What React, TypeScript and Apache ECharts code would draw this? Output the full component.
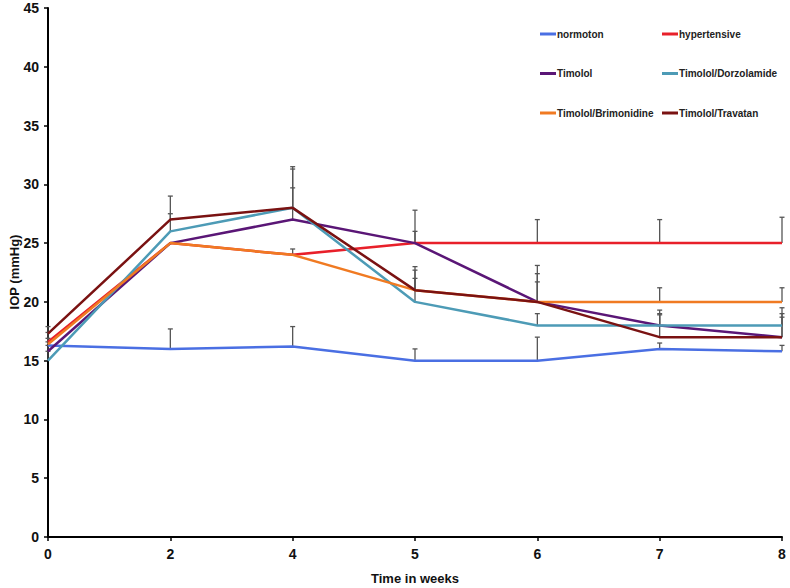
import React, { useEffect, useRef } from "react";
import * as echarts from "echarts";

const weeks = ["0", "2", "4", "5", "6", "7", "8"];

const seriesNames = [
  "normoton",
  "hypertensive",
  "Timolol",
  "Timolol/Dorzolamide",
  "Timolol/Brimonidine",
  "Timolol/Travatan",
];

const normoton = [16.3, 16.0, 16.2, 15.0, 15.0, 16.0, 15.8];
const hypertensive = [16.6, 25.0, 24.0, 25.0, 25.0, 25.0, 25.0];
const timolol = [15.8, 25.0, 27.0, 25.0, 20.0, 18.0, 17.0];
const dorzolamide = [15.0, 26.0, 28.0, 20.0, 18.0, 18.0, 18.0];
const brimonidine = [16.4, 25.0, 24.0, 21.0, 20.0, 20.0, 20.0];
const travatan = [17.3, 27.0, 28.0, 21.0, 20.0, 17.0, 17.0];

// upper error amounts (SD), 0 = not visible
const errNormoton = [0.3, 1.7, 1.7, 1.0, 2.0, 0.5, 0.5];
const errHypertensive = [0.8, 0, 0.5, 2.8, 2.0, 2.0, 2.2];
const errTimolol = [0.5, 0, 2.7, 1.0, 2.4, 1.3, 2.5];
const errDorzolamide = [0.8, 1.5, 3.3, 2.0, 1.0, 0.9, 1.0];
const errBrimonidine = [0.5, 0, 0, 2.0, 1.7, 1.2, 1.2];
const errTravatan = [0.6, 2.0, 3.5, 1.7, 3.1, 2.0, 1.7];

const colors = ["#4a6fe3", "#e8202a", "#5a1676", "#4d9bb6", "#f07a22", "#7a1212"];

const values = [normoton, hypertensive, timolol, dorzolamide, brimonidine, travatan];
const errors = [errNormoton, errHypertensive, errTimolol, errDorzolamide, errBrimonidine, errTravatan];

const yAxisTitle = "IOP (mmHg)";
const xAxisTitle = "Time in weeks";

const FONT = "'Liberation Sans', Arial, sans-serif";

export default function App() {
  const ref = useRef<HTMLDivElement>(null);
  useEffect(() => {
    if (!ref.current) return;
    const chart = echarts.init(ref.current, null, { renderer: "svg" });

    const errData: number[][] = [];
    values.forEach((vals, s) => {
      vals.forEach((v, i) => {
        const e = errors[s][i];
        if (e > 0) errData.push([i, v, v + e]);
      });
    });

    const lineSeries = values.map((vals, s) => ({
      name: seriesNames[s],
      type: "line",
      data: vals,
      symbol: "none",
      z: 3,
      lineStyle: { color: colors[s], width: 2.5 },
      itemStyle: { color: colors[s] },
    }));

    const legendCommon = {
      orient: "vertical",
      itemGap: 29.5,
      itemWidth: 16,
      itemHeight: 3,
      icon: "rect",
      textStyle: { fontFamily: FONT, fontWeight: "bold", fontSize: 10, color: "#222", padding: [0, 0, 0, -4] },
    };

    chart.setOption({
      animation: false,
      backgroundColor: "#ffffff",
      grid: { left: 48, right: 8, top: 8, bottom: 51, containLabel: false, outerBoundsMode: "none" },
      legend: [
        { ...legendCommon, left: 535, top: 24, data: [seriesNames[0], seriesNames[2], seriesNames[4]] },
        { ...legendCommon, left: 657, top: 24, data: [seriesNames[1], seriesNames[3], seriesNames[5]] },
      ],
      graphic: [
        {
          type: "text",
          x: 14,
          y: 272,
          rotation: Math.PI / 2,
          style: {
            text: yAxisTitle,
            fontFamily: FONT,
            fontWeight: "bold",
            fontSize: 13,
            fill: "#111",
            align: "center",
            verticalAlign: "middle",
          },
        },
      ],
      xAxis: {
        type: "category",
        data: weeks,
        boundaryGap: false,
        name: xAxisTitle,
        nameLocation: "middle",
        nameGap: 35,
        nameTextStyle: { fontFamily: FONT, fontWeight: "bold", fontSize: 13, color: "#111" },
        axisLine: { lineStyle: { color: "#000", width: 2 } },
        axisTick: { show: true, alignWithLabel: true, length: 4, lineStyle: { color: "#000", width: 1.5 } },
        axisLabel: { fontFamily: FONT, fontWeight: "bold", fontSize: 14, color: "#111", margin: 10 },
        splitLine: { show: false },
      },
      yAxis: {
        type: "value",
        min: 0,
        max: 45,
        interval: 5,
        axisLine: { show: true, lineStyle: { color: "#000", width: 2 } },
        axisTick: { show: true, length: 4, lineStyle: { color: "#000", width: 1.5 } },
        axisLabel: { fontFamily: FONT, fontWeight: "bold", fontSize: 14, color: "#111", margin: 9 },
        splitLine: { show: false },
      },
      series: [
        {
          type: "custom",
          name: "errors",
          z: 2,
          silent: true,
          data: errData,
          encode: { x: 0, y: [1, 2] },
          renderItem: (params: any, api: any) => {
            const x = api.value(0);
            const lo = api.coord([x, api.value(1)]);
            const hi = api.coord([x, api.value(2)]);
            const style = { stroke: "#555", lineWidth: 1.3 };
            return {
              type: "group",
              children: [
                { type: "line", shape: { x1: lo[0], y1: lo[1], x2: hi[0], y2: hi[1] }, style },
                { type: "line", shape: { x1: hi[0] - 2.5, y1: hi[1], x2: hi[0] + 2.5, y2: hi[1] }, style },
              ],
            };
          },
        },
        ...lineSeries,
      ],
    });
    return () => chart.dispose();
  }, []);
  return <div ref={ref} style={{ width: 790, height: 588, position: "absolute", left: 0, top: 0 }} />;
}
